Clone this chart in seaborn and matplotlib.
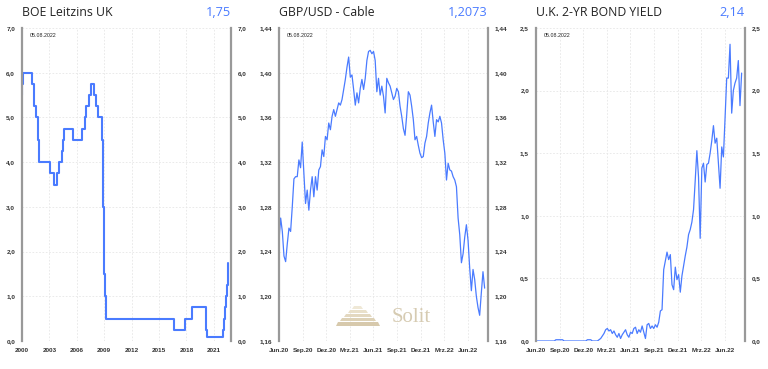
import seaborn as sns
import matplotlib.pyplot as plt
from matplotlib.patches import Polygon
from matplotlib.ticker import FuncFormatter
import pandas as pd

# BoE bank rate, change dates and level after each change
boe_dates = ["2000-01-01", "2000-01-13", "2000-02-10", "2001-02-08", "2001-04-05", "2001-05-10",
             "2001-08-02", "2001-09-18", "2001-10-04", "2001-11-08", "2003-02-06", "2003-07-10",
             "2003-11-06", "2004-02-05", "2004-05-06", "2004-06-10", "2004-08-05", "2005-08-04",
             "2006-08-03", "2006-11-09", "2007-01-11", "2007-05-10", "2007-07-05", "2007-12-06",
             "2008-02-07", "2008-04-10", "2008-10-08", "2008-11-06", "2008-12-04", "2009-01-08",
             "2009-02-05", "2009-03-05", "2016-08-04", "2017-11-02", "2018-08-02", "2020-03-11",
             "2020-03-19", "2021-12-16", "2022-02-03", "2022-03-17", "2022-05-05", "2022-06-16",
             "2022-08-04", "2022-08-05"]
boe_rates = [5.5, 5.75, 6.0, 5.75, 5.5, 5.25, 5.0, 4.75, 4.5, 4.0, 3.75, 3.5,
             3.75, 4.0, 4.25, 4.5, 4.75, 4.5, 4.75, 5.0, 5.25, 5.5, 5.75, 5.5,
             5.25, 5.0, 4.5, 3.0, 2.0, 1.5, 1.0, 0.5, 0.25, 0.5, 0.75, 0.25,
             0.1, 0.25, 0.5, 0.75, 1.0, 1.25, 1.75, 1.75]

# GBP/USD, evenly spaced readings from 01.06.2020 to 05.08.2022
cable = [1.250, 1.270, 1.258, 1.236, 1.231, 1.247, 1.261, 1.258, 1.280, 1.305,
         1.307, 1.307, 1.322, 1.315, 1.338, 1.310, 1.283, 1.295, 1.277, 1.295,
         1.307, 1.289, 1.307, 1.295, 1.313, 1.316, 1.331, 1.325, 1.343, 1.340,
         1.355, 1.349, 1.361, 1.367, 1.361, 1.367, 1.373, 1.371, 1.376, 1.385,
         1.394, 1.405, 1.414, 1.396, 1.398, 1.385, 1.371, 1.382, 1.373, 1.386,
         1.394, 1.385, 1.395, 1.411, 1.419, 1.420, 1.417, 1.419, 1.411, 1.383,
         1.395, 1.380, 1.388, 1.379, 1.364, 1.395, 1.391, 1.388, 1.382, 1.376,
         1.379, 1.386, 1.383, 1.370, 1.361, 1.350, 1.344, 1.362, 1.383, 1.380,
         1.370, 1.358, 1.340, 1.343, 1.335, 1.328, 1.324, 1.325, 1.337, 1.343,
         1.355, 1.364, 1.371, 1.356, 1.343, 1.358, 1.356, 1.361, 1.355, 1.340,
         1.328, 1.304, 1.319, 1.313, 1.312, 1.307, 1.304, 1.298, 1.270, 1.255,
         1.230, 1.238, 1.253, 1.264, 1.250, 1.225, 1.205, 1.224, 1.215, 1.200,
         1.190, 1.183, 1.203, 1.222, 1.2073]

# UK 2-year gilt yield, same period
gilt2y = [0.00, 0.00, 0.00, 0.00, 0.00, 0.00, 0.00, 0.00, 0.00, 0.00,
          0.00, 0.00, 0.01, 0.01, 0.01, 0.01, 0.01, 0.00, 0.00, 0.00,
          0.00, 0.00, 0.00, 0.00, 0.00, 0.00, 0.00, 0.00, 0.00, 0.00,
          0.00, 0.01, 0.01, 0.01, 0.00, 0.00, 0.00, 0.00, 0.01, 0.02,
          0.04, 0.06, 0.09, 0.10, 0.08, 0.09, 0.06, 0.08, 0.05, 0.03,
          0.06, 0.02, 0.05, 0.07, 0.09, 0.05, 0.03, 0.07, 0.06, 0.10,
          0.11, 0.06, 0.09, 0.07, 0.12, 0.07, 0.02, 0.13, 0.14, 0.10,
          0.12, 0.10, 0.13, 0.11, 0.15, 0.24, 0.25, 0.57, 0.64, 0.71,
          0.65, 0.69, 0.45, 0.41, 0.59, 0.49, 0.53, 0.39, 0.52, 0.60,
          0.68, 0.75, 0.85, 0.89, 0.95, 1.05, 1.28, 1.52, 1.31, 0.82,
          1.38, 1.42, 1.27, 1.41, 1.42, 1.50, 1.60, 1.72, 1.58, 1.62,
          1.42, 1.22, 1.55, 1.47, 1.78, 2.10, 2.10, 2.37, 1.82, 2.00,
          2.06, 2.10, 2.24, 1.88, 2.14]

titles = ["BOE Leitzins UK", "GBP/USD - Cable", "U.K. 2-YR BOND YIELD"]
last_values = ["1,75", "1,2073", "2,14"]
stand = "05.08.2022"
short_ticks = ["Jun.20", "Sep.20", "Dez.20", "Mrz.21", "Jun.21", "Sep.21", "Dez.21", "Mrz.22", "Jun.22"]
short_tick_dates = ["2020-06-01", "2020-09-01", "2020-12-01", "2021-03-01", "2021-06-01",
                    "2021-09-01", "2021-12-01", "2022-03-01", "2022-06-01"]
year_ticks = [2000, 2003, 2006, 2009, 2012, 2015, 2018, 2021]

sns.set_style("white")
plt.rcParams['font.family'] = ['Liberation Sans', 'DejaVu Sans']

line_col = "#4a7bff"
value_col = "#4a7bff"

fig = plt.figure(figsize=(7.68, 3.69), dpi=100)
lefts = [22, 279, 536]
axes = [fig.add_axes([l / 768, 1 - 341 / 369, 209 / 768, 313 / 369]) for l in lefts]


def comma(dec):
    return FuncFormatter(lambda v, p: f"{v:.{dec}f}".replace(".", ","))


# panel 1
boe = pd.DataFrame({"date": pd.to_datetime(boe_dates), "rate": boe_rates})
sns.lineplot(data=boe, x="date", y="rate", ax=axes[0], color=line_col, lw=1.5,
             drawstyle="steps-post", estimator=None)
axes[0].set_ylim(0, 7)
axes[0].set_yticks(range(0, 8))
axes[0].yaxis.set_major_formatter(comma(1))
axes[0].set_xlim(pd.Timestamp("2000-01-01"), pd.Timestamp("2022-11-20"))
axes[0].set_xticks([pd.Timestamp(f"{y}-01-01") for y in year_ticks])
axes[0].set_xticklabels([str(y) for y in year_ticks])

# panel 2 + 3
cable_dates = pd.date_range("2020-06-01", "2022-08-05", periods=len(cable))
sns.lineplot(x=cable_dates, y=cable, ax=axes[1], color=line_col, lw=0.9, estimator=None)
axes[1].set_ylim(1.16, 1.44)
axes[1].set_yticks([1.16, 1.20, 1.24, 1.28, 1.32, 1.36, 1.40, 1.44])
axes[1].yaxis.set_major_formatter(comma(2))

gilt_dates = pd.date_range("2020-06-01", "2022-08-05", periods=len(gilt2y))
sns.lineplot(x=gilt_dates, y=gilt2y, ax=axes[2], color=line_col, lw=0.9, estimator=None)
axes[2].set_ylim(0, 2.5)
axes[2].set_yticks([0, 0.5, 1.0, 1.5, 2.0, 2.5])
axes[2].yaxis.set_major_formatter(comma(1))

for ax in axes[1:]:
    ax.set_xlim(pd.Timestamp("2020-06-01"), pd.Timestamp("2022-08-18"))
    ax.set_xticks(pd.to_datetime(short_tick_dates))
    ax.set_xticklabels(short_ticks)

for ax, title, val in zip(axes, titles, last_values):
    ax.set_xlabel("")
    ax.set_ylabel("")
    ax.grid(True, color="#e6e6e6", lw=0.6, ls=(0, (2, 2)))
    for side in ["top", "bottom"]:
        ax.spines[side].set_visible(False)
    for side in ["left", "right"]:
        ax.spines[side].set_color("#999999")
        ax.spines[side].set_linewidth(1.6)
    ax.tick_params(axis="both", length=0, labelsize=4.6, labelcolor="#333333", pad=5)
    ax.tick_params(axis="y", labelleft=True, labelright=True)
    for lab in ax.get_xticklabels() + ax.get_yticklabels():
        lab.set_fontweight("bold")
    ax.text(0.035, 0.985, stand, transform=ax.transAxes, fontsize=3.8, color="#222222",
            va="top", ha="left")
    ax.text(0, 1.038, title, transform=ax.transAxes, fontsize=8.8, family="Open Sans",
            color="#222222", ha="left", va="baseline")
    ax.text(1, 1.038, val, transform=ax.transAxes, fontsize=9.2, family="Open Sans",
            color=value_col, ha="right", va="baseline")


# watermark logo
def px(x, y):
    return (x / 768, 1 - y / 369)


layers = [(352, 363, 306, 309), (348, 368, 310, 313), (344, 372, 314, 317),
          (340, 376, 318, 321), (336, 380, 322, 326)]
shades = ["#efe8d6", "#e9e0ca", "#e3d8c0", "#ddd1b6", "#d7c9ac"]
for (x0, x1, y0, y1), shade in zip(layers, shades):
    poly = Polygon([px(x0 + 2, y0), px(x1 - 2, y0), px(x1, y1), px(x0, y1)],
                   closed=True, transform=fig.transFigure, facecolor=shade, edgecolor="none")
    fig.patches.append(poly)
fig.text(392 / 768, 1 - 322 / 369, "Solit", family="Liberation Serif", fontsize=15,
         color="#d6cbb2", ha="left", va="baseline")

fig.savefig("out.png", dpi=100)
